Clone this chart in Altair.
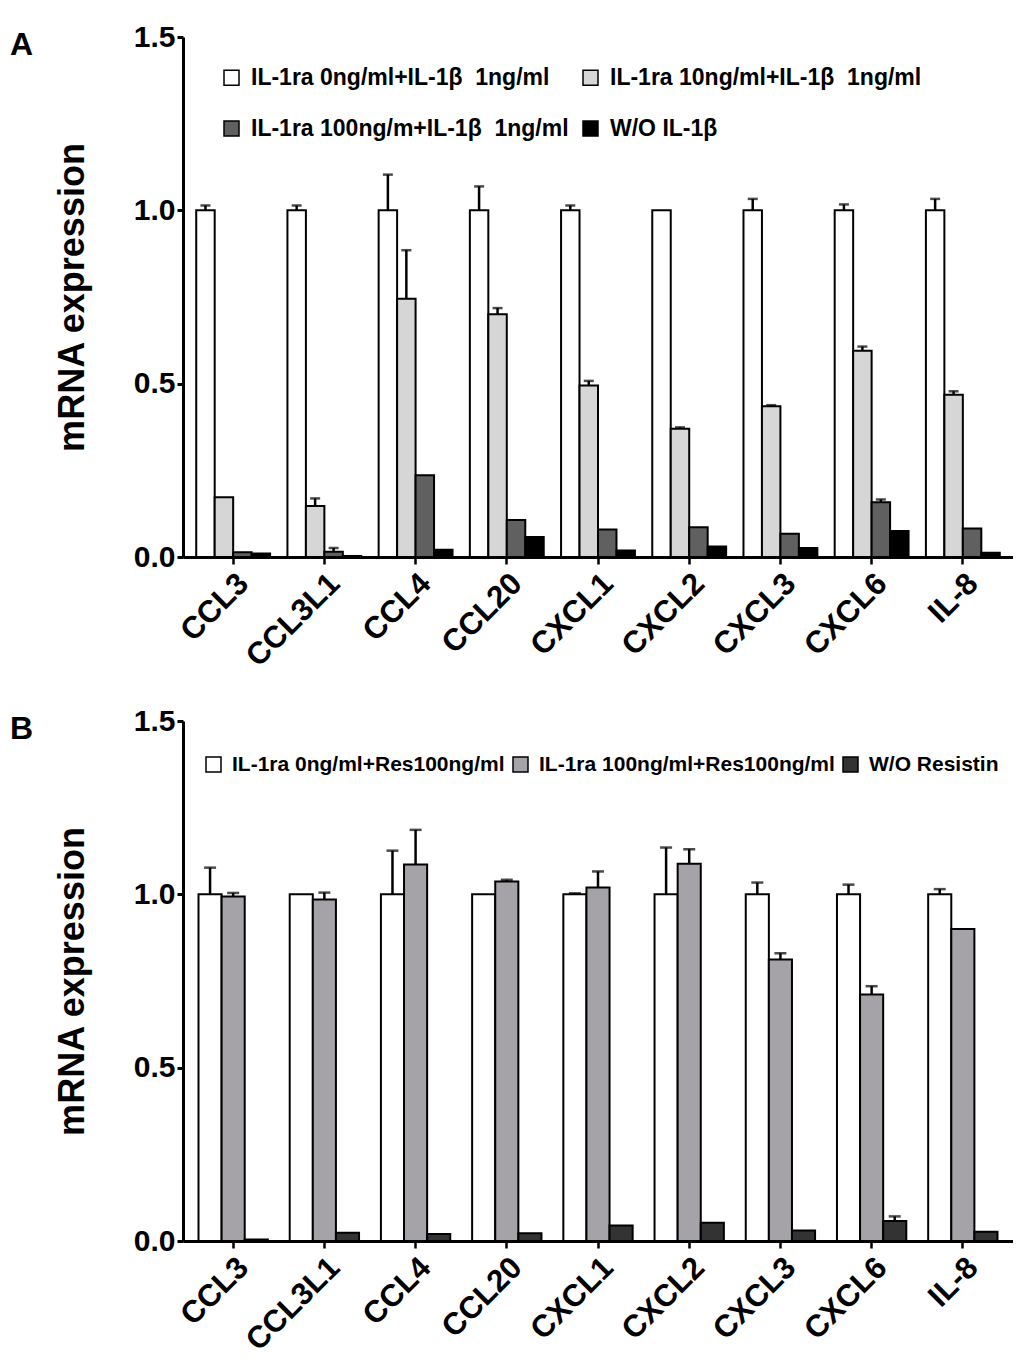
import altair as alt
import pandas as pd

genes = ["CCL3", "CCL3L1", "CCL4", "CCL20", "CXCL1", "CXCL2", "CXCL3", "CXCL6", "IL-8"]

# Panel A
a_groups = ["IL-1ra 0ng/ml+IL-1β\u00a0 1ng/ml", "IL-1ra 10ng/ml+IL-1β\u00a0 1ng/ml",
            "IL-1ra 100ng/m+IL-1β\u00a0 1ng/ml", "W/O IL-1β"]
a_colors = ["#ffffff", "#d6d6d6", "#606060", "#000000"]
a_g1 = [1.0, 1.0, 1.0, 1.0, 1.0, 1.0, 1.0, 1.0, 1.0]
a_g1_err = [0.014, 0.014, 0.103, 0.069, 0.014, 0.0, 0.033, 0.017, 0.033]
a_g2 = [0.172, 0.147, 0.745, 0.700, 0.495, 0.370, 0.435, 0.595, 0.468]
a_g2_err = [0.0, 0.022, 0.140, 0.018, 0.013, 0.004, 0.003, 0.012, 0.010]
a_g3 = [0.014, 0.015, 0.236, 0.107, 0.079, 0.086, 0.067, 0.158, 0.082]
a_g3_err = [0.0, 0.011, 0.0, 0.0, 0.0, 0.0, 0.0, 0.008, 0.0]
a_g4 = [0.010, 0.003, 0.021, 0.058, 0.019, 0.030, 0.026, 0.075, 0.012]
a_g4_err = [0.0, 0.0, 0.0, 0.0, 0.0, 0.0, 0.0, 0.0, 0.0]

# Panel B
b_groups = ["IL-1ra 0ng/ml+Res100ng/ml", "IL-1ra 100ng/ml+Res100ng/ml", "W/O Resistin"]
b_colors = ["#ffffff", "#a5a3a8", "#333333"]
b_g1 = [1.0, 1.0, 1.0, 1.0, 1.0, 1.0, 1.0, 1.0, 1.0]
b_g1_err = [0.077, 0.0, 0.126, 0.0, 0.003, 0.135, 0.034, 0.028, 0.015]
b_g2 = [0.994, 0.985, 1.086, 1.037, 1.020, 1.088, 0.812, 0.711, 0.900]
b_g2_err = [0.010, 0.020, 0.100, 0.005, 0.046, 0.042, 0.018, 0.024, 0.0]
b_g3 = [0.004, 0.024, 0.020, 0.022, 0.045, 0.053, 0.030, 0.058, 0.027]
b_g3_err = [0.0, 0.0, 0.0, 0.0, 0.0, 0.0, 0.0, 0.013, 0.0]

FONT = "Liberation Sans"


def long_df(groups, vals, errs):
    rows = []
    for g, vs, es in zip(groups, vals, errs):
        for gene, v, e in zip(genes, vs, es):
            rows.append(dict(gene=gene, group=g, val=v, err=e, top=v + e))
    return pd.DataFrame(rows)


def panel(df, groups, colors, letter, pad_inner, pad_outer, legend_kw, cap):
    xscale = alt.Scale(paddingInner=pad_inner, paddingOuter=pad_outer)
    xaxis = alt.Axis(title=None, labelAngle=-45, labelFontSize=31, labelFontWeight="bold",
                     labelFont=FONT, tickSize=7, tickWidth=2.5, domainWidth=3,
                     labelColor="black", domainColor="black", tickColor="black", labelPadding=4)
    yscale = alt.Scale(domain=[0, 1.5], nice=False)
    yaxis = alt.Axis(values=[0, 0.5, 1.0, 1.5], format=".1f", labelFontSize=30,
                     labelFontWeight="bold", labelFont=FONT, titleFont=FONT,
                     titleFontSize=36, titleFontWeight="bold", domainWidth=3, tickWidth=3,
                     tickSize=6, grid=False, labelColor="black", titleColor="black",
                     domainColor="black", tickColor="black", titlePadding=42, labelPadding=2)
    x = alt.X("gene:N", sort=genes, scale=xscale, axis=xaxis)
    xo = alt.XOffset("group:N", sort=groups, scale=alt.Scale(domain=groups))
    bars = alt.Chart(df).mark_bar(stroke="black", strokeWidth=2).encode(
        x=x, xOffset=xo,
        y=alt.Y("val:Q", scale=yscale, axis=yaxis, title="mRNA expression"),
        color=alt.Color("group:N", scale=alt.Scale(domain=groups, range=colors),
                        legend=alt.Legend(**legend_kw)),
    )
    edf = df[df["err"] > 0]
    rules = alt.Chart(edf).mark_rule(color="black", strokeWidth=2.5).encode(
        x=alt.X("gene:N", sort=genes, title=None), xOffset=xo,
        y=alt.Y("val:Q", title="mRNA expression"), y2="top:Q",
    )
    caps = alt.Chart(edf).mark_tick(color="black", thickness=2.5, size=cap,
                                    orient="horizontal").encode(
        x=alt.X("gene:N", sort=genes, title=None), xOffset=xo,
        y=alt.Y("top:Q", title="mRNA expression"),
    )
    lab = alt.Chart(pd.DataFrame({"t": [letter]})).mark_text(
        fontSize=32, fontWeight="bold", font=FONT, align="left", baseline="middle",
        color="black").encode(x=alt.value(-173), y=alt.value(8), text="t:N")
    return alt.layer(bars, rules, caps, lab).properties(width=830, height=520)


common_legend = dict(orient="none", title=None, symbolType="square", symbolSize=225,
                     symbolStrokeColor="black", symbolStrokeWidth=1.5,
                     labelFontWeight="bold", labelFont=FONT, labelColor="black",
                     labelLimit=500, labelOffset=8, direction="horizontal")

dfa = long_df(a_groups, [a_g1, a_g2, a_g3, a_g4], [a_g1_err, a_g2_err, a_g3_err, a_g4_err])
dfb = long_df(b_groups, [b_g1, b_g2, b_g3], [b_g1_err, b_g2_err, b_g3_err])

chart_a = panel(dfa, a_groups, a_colors, "A", 0.19, 0.145,
                dict(common_legend, labelFontSize=23, legendX=37, legendY=29, columns=2,
                     columnPadding=10, rowPadding=27), 10)
chart_b = panel(dfb, b_groups, b_colors, "B", 0.24, 0.17,
                dict(common_legend, labelFontSize=21, legendX=20, legendY=33, columns=3,
                     columnPadding=5), 12)

chart = alt.vconcat(chart_a, chart_b, spacing=33).resolve_scale(
    color="independent", xOffset="independent", x="independent", y="independent"
).properties(
    padding={"top": 14, "left": 2, "right": 0, "bottom": 5}
).configure_view(stroke=None)

chart.save("out.html", embed_options={"renderer": "svg", "actions": False})
